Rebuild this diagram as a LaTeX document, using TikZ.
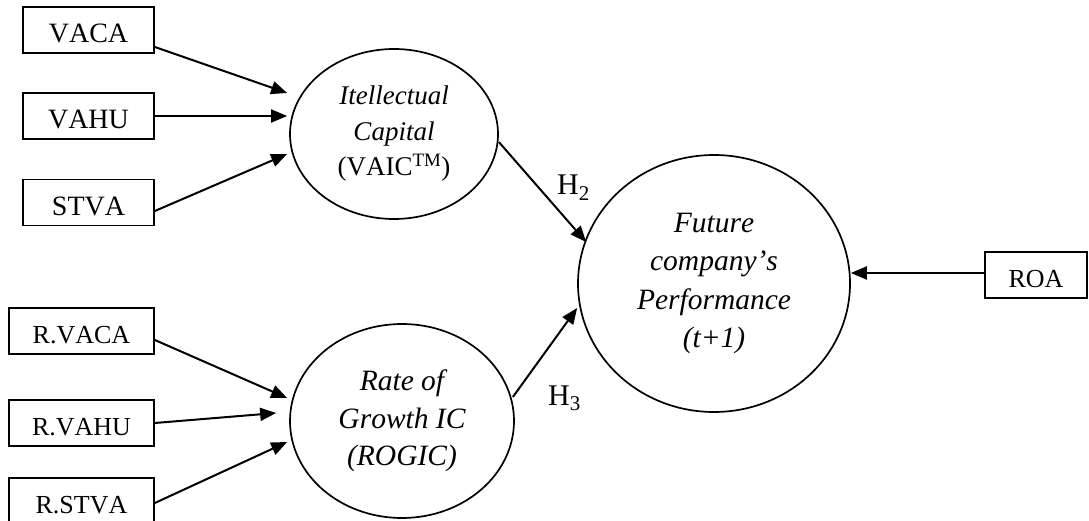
\documentclass[tikz,border=0pt]{standalone}
\usepackage{fontspec}
\setmainfont{Liberation Serif}[Kerning=Off]
\usetikzlibrary{shapes.geometric,arrows.meta}
\tikzset{
  box/.style={draw, line width=1.7pt, rectangle, minimum width=131pt, minimum height=46pt,
    inner sep=0pt, font=\fontsize{28}{30}\selectfont, text height=26pt, text depth=0pt},
  rbox/.style={box, minimum width=145pt, font=\fontsize{26}{30}\selectfont, text height=25pt},
  ell/.style={draw, line width=1.7pt, ellipse, inner sep=0pt, align=center},
  arr/.style={line width=2pt, -{Triangle[length=16pt,width=13pt]}},
  hlab/.style={anchor=base west, inner sep=0pt, font=\fontsize{30}{30}\selectfont}
}
\begin{document}
\begin{tikzpicture}[x=1pt,y=-1pt]
\useasboundingbox (0,0) rectangle (1089,521);
\clip (0,0) rectangle (1089,521);

% left boxes (top group)
\node[box] (vaca) at (88.5,30) {VACA};
\node[box] (vahu) at (88.5,116) {VAHU};
\node[box] (stva) at (88.5,202.5) {STVA};

% left boxes (bottom group)
\node[rbox] (rvaca) at (81.5,331) {R.VACA};
\node[rbox] (rvahu) at (81.5,423) {R.VAHU};
\node[rbox] (rstva) at (81.5,501) {R.STVA};

% ROA
\node[rbox, minimum width=102pt] (roa) at (1036,275) {ROA};

% ellipses
\node[ell, minimum width=208pt, minimum height=170pt,
      font=\fontsize{27}{35.5}\selectfont] (ic) at (394,134)
  {\textit{Itellectual}\\ \textit{Capital}\\ (VAIC\textsuperscript{TM})};
\node[ell, minimum width=224pt, minimum height=194pt,
      font=\fontsize{29.5}{37.5}\selectfont\itshape] (rogic) at (402,421)
  {Rate of\\ Growth IC\\ (ROGIC)};
\node[ell, minimum width=272pt, minimum height=257pt,
      font=\fontsize{29.5}{38.5}\selectfont\itshape] (fut) at (714,283.5)
  {Future\\ company’s\\ Performance\\ (t+1)};

% arrows into IC
\draw[arr] ([yshift=-17pt]vaca.east) -- ([xshift=-2pt,yshift=41pt]ic.west);
\draw[arr] (vahu.east) -- ([xshift=-2pt,yshift=18pt]ic.west);
\draw[arr] ([yshift=-8.5pt]stva.east) -- ([xshift=-2pt,yshift=-20pt]ic.west);

% arrows into ROGIC
\draw[arr] ([yshift=-9pt]rvaca.east) -- ([xshift=-2pt,yshift=23pt]rogic.west);
\draw[arr] (rvahu.east) -- ([xshift=-13pt,yshift=8pt]rogic.west);
\draw[arr] ([yshift=-2pt]rstva.east) -- ([xshift=-2pt,yshift=-21pt]rogic.west);

% hypotheses
\draw[arr] ([yshift=-8pt]ic.east) -- ([xshift=9pt,yshift=41.5pt]fut.west);
\draw[arr] ([xshift=-2pt,yshift=24pt]rogic.east) -- ([yshift=-24.5pt]fut.west);
\draw[arr] ([yshift=2pt]roa.west) -- ([yshift=10.5pt]fut.east);

\node[hlab] (h2) at (557,195) {H\textsubscript{2}};
\node[hlab] (h3) at (548,405) {H\textsubscript{3}};
\end{tikzpicture}
\end{document}
